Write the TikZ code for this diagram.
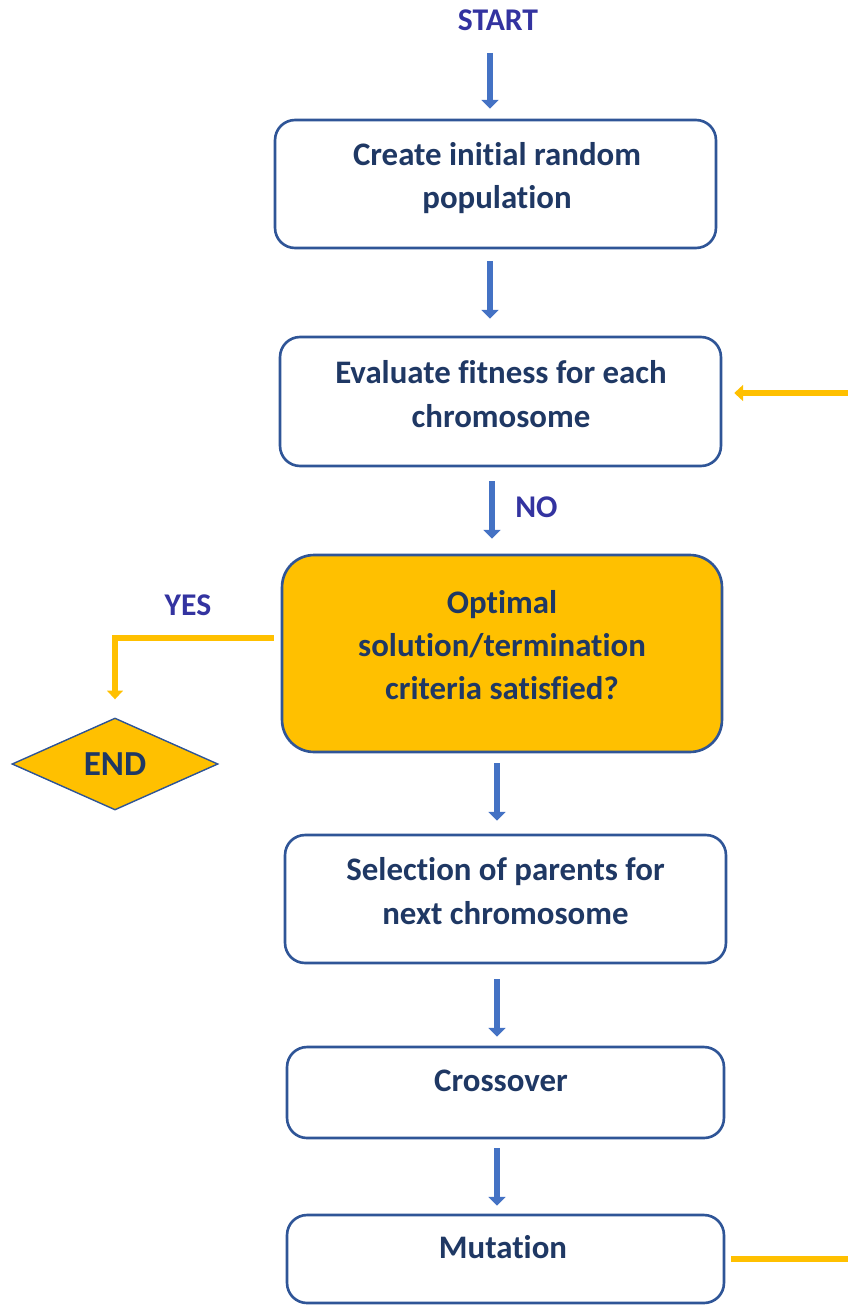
\documentclass[tikz,border=0pt]{standalone}
\usepackage{fontspec}
\setmainfont{Carlito}[Ligatures=NoCommon]
\usetikzlibrary{arrows.meta, positioning}
\usetikzlibrary{shapes.geometric}

\definecolor{boxline}{RGB}{47,85,151}
\definecolor{boxtext}{RGB}{31,56,100}
\definecolor{flowblue}{RGB}{68,114,196}
\definecolor{gold}{RGB}{255,192,0}
\definecolor{tagblue}{RGB}{51,51,160}

\begin{document}
\begin{tikzpicture}[
		x=0.02cm, y=-0.02cm,
		every node/.style={font=\bfseries\fontsize{18.7}{24.6}\selectfont},
		block/.style={
			rectangle,
			draw=boxline,
			line width=1.5pt,
			rounded corners=0.4cm,
			fill=white,
			inner sep=0pt
		},
		boxtxt/.style={
			text=boxtext,
			align=center,
			inner sep=0pt
		},
		tag/.style={
			text=tagblue,
			inner sep=0pt,
			font=\bfseries\fontsize{18}{20}\selectfont
		},
		flow/.style={
			draw=flowblue,
			line width=3.8pt,
			-{Triangle[width=9.5pt,length=5pt]},
			shorten >=0.24cm,
			shorten <=0.24cm
		},
		goldflow/.style={
			draw=gold,
			line width=3.2pt,
			-{Triangle[width=9pt,length=5pt]}
		}
	]
	
	% Frame
	\useasboundingbox (0,0) rectangle (848,1305);
	\clip (0,0) rectangle (848,1305);
	
	% Nodes
	\node[tag] (start) at (498,20) {START};
	
	\node[block, minimum width=8.82cm, minimum height=2.56cm] (create) at (495.5,184) {};
	\node[boxtxt] (createtxt) at (497,178) {Create initial random\\population};
	
	\node[block, minimum width=8.82cm, minimum height=2.58cm] (eval) at (500.5,401.5) {};
	\node[boxtxt] (evaltxt) at (501,394) {Evaluate fitness for each\\chromosome};
	
	\node[block, fill=gold, rounded corners=0.64cm, minimum width=8.8cm, minimum height=3.94cm] (optimal) at (502,653.5) {};
	\node[boxtxt] (optimaltxt) at (502,645) {Optimal\\solution/termination\\criteria satisfied?};
	
	\node[diamond, draw=boxline, line width=0.8pt, fill=gold, inner sep=0pt,
		minimum width=4.12cm, minimum height=1.84cm,
		text=boxtext, font=\bfseries\fontsize{20}{22}\selectfont] (finish) at (115,764) {END};
	
	\node[block, minimum width=8.82cm, minimum height=2.56cm] (select) at (505.5,899) {};
	\node[boxtxt] (selecttxt) at (505.5,891) {Selection of parents for\\next chromosome};
	
	\node[block, minimum width=8.74cm, minimum height=1.82cm] (cross) at (505.5,1092.5) {};
	\node[boxtxt] (crosstxt) at (501,1081) {Crossover};
	
	\node[block, minimum width=8.74cm, minimum height=1.76cm] (mutate) at (505.5,1259) {};
	\node[boxtxt] (mutatetxt) at (503,1247) {Mutation};
	
	% Arrows (main flow)
	\draw[flow, shorten <=0.44cm, shorten >=0.2cm] (start.south -| 490,0) -- (create.north -| 490,0);
	\draw[flow, shorten >=0.34cm] (create.south -| 490,0) -- (eval.north -| 490,0);
	\draw[flow, shorten <=0.28cm, shorten >=0.3cm] (eval.south -| 492,0) -- node[tag, right=0.4cm, yshift=0.06cm] {NO} (optimal.north -| 492,0);
	\draw[flow, shorten <=0.2cm, shorten >=0.26cm] (optimal.south -| 497,0) -- (select.north -| 497,0);
	\draw[flow, shorten <=0.3cm, shorten >=0.18cm] (select.south -| 497,0) -- (cross.north -| 497,0);
	\draw[flow, shorten <=0.18cm, shorten >=0.16cm] (cross.south -| 497,0) -- (mutate.north -| 497,0);
	
	% Exit arrow
	\draw[goldflow, shorten <=0.14cm, shorten >=0.36cm]
	([yshift=0.31cm]optimal.west) -| node[tag, pos=0.28, above=0.38cm] {YES}
	(finish.north);
	
	% Loop-back arrow (runs off the right edge)
	\draw[goldflow, shorten <=0.12cm, shorten >=0.24cm]
	(mutate.east) -- ++(3cm,0)
	|- ([yshift=0.17cm]eval.east);
	
\end{tikzpicture}
\end{document}
